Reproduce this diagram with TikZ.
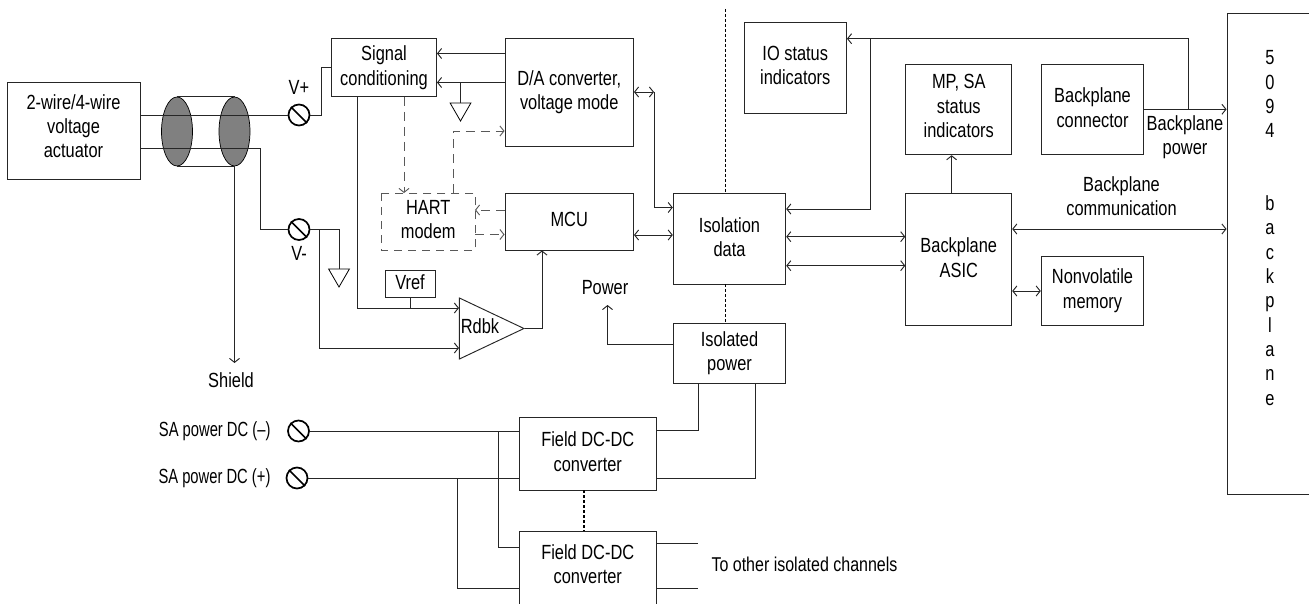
\documentclass[tikz,border=0pt]{standalone}
\usepackage{fontspec}
\setmainfont[FakeStretch=0.8]{Liberation Sans}
\newfontfamily\narrowfont[FakeStretch=0.72]{Liberation Sans}
\usetikzlibrary{shapes.geometric, arrows.meta}
\tikzstyle{wire} = [line width=0.95pt, black!85]
\tikzstyle{arrow} = [wire,->,>={Straight Barb[length=4pt,width=10pt]}]
\tikzstyle{biarrow} = [wire,<->,>={Straight Barb[length=4pt,width=10pt]}]
\tikzstyle{hartline} = [line width=0.95pt, black!65, dash pattern=on 9pt off 6pt]
\tikzstyle{cut} = [line width=1.4pt, dash pattern=on 3pt off 2pt]
\tikzstyle{box} = [draw, black!85, line width=0.95pt, text=black, inner sep=0pt, text depth=4pt]
\tikzstyle{terminal} = [draw, circle, line width=1.7pt, minimum size=21pt, inner sep=0pt]
\tikzstyle{shieldring} = [draw, ellipse, fill=black!50, line width=0.7pt, minimum width=31pt, minimum height=69pt, inner sep=0pt]
\tikzstyle{ground} = [draw, isosceles triangle, isosceles triangle apex angle=60, shape border rotate=-90, line width=0.8pt, inner sep=0pt, minimum height=18pt]

\begin{document}
\begin{tikzpicture}[x=1pt, y=-1pt, font=\fontsize{20.5}{24.3}\selectfont, every node/.style={align=center}]
    \useasboundingbox (0,0) rectangle (1309,604);
    \clip (0,0) rectangle (1309,604);

    % Field side
    \node (actuator) [box, text depth=10pt, minimum width=133pt, minimum height=96.5pt] at (73.5,131) {2-wire/4-wire\\voltage\\actuator};
    \node (ringa) [shieldring] at (177,131.5) {};
    \node (ringb) [shieldring] at (234.5,131.5) {};
    \node (vplus) [terminal] at (299,115) {};
    \node (vminus) [terminal] at (299,229.5) {};
    \node (vplustext) at (299,87) {V+};
    \node (vminustext) at (299,253) {V-};
    \node (shield) at (231,380) {Shield};

    \node (signal) [box, minimum width=105pt, minimum height=58pt] at (384,67.5) {Signal\\conditioning};
    \node (dac) [box, minimum width=128.5pt, minimum height=107.5pt] at (569.25,92.25) {D/A converter,\\voltage mode};
    \node (hart) [box, draw=none, minimum width=92.5pt, minimum height=56.5pt] at (428.25,221.75) {HART\\modem};
    \node (mcu) [box, minimum width=128.5pt, minimum height=56.5pt] at (569.25,221.75) {MCU};
    \node (vref) [box, minimum width=50pt, minimum height=27pt] at (410,284) {Vref};
    \node (rdbk) [draw, isosceles triangle, isosceles triangle apex angle=50.6, line width=0.95pt, black!85, inner sep=0pt, minimum height=64.5pt] at (478.75,328.5) {};
    \node (rdbktext) at (480,326) {Rdbk};
    \node (gnda) [ground] at (339,275) {};
    \node (gndb) [ground] at (460.5,109) {};

    % Isolation
    \node (iso) [box, minimum width=112.5pt, minimum height=90.5pt] at (729.5,238.75) {Isolation\\data};
    \node (isopower) [box, minimum width=112.5pt, minimum height=59.5pt] at (729.5,353.25) {Isolated\\power};
    \node (power) at (605,288) {Power};
    \coordinate (cuttop) at (725.3,9);
    \coordinate (cutmid) at (725.3,323.5);

    % Power inputs
    \node (samin) [terminal] at (298.5,431) {};
    \node (saplus) [terminal] at (297,478) {};
    \node (samintext) [anchor=east, font=\fontsize{20.5}{24.3}\narrowfont] at (274,431) {SA power DC (–)};
    \node (saplustext) [anchor=east, font=\fontsize{20.5}{24.3}\narrowfont] at (274,478) {SA power DC (+)};
    \node (fielda) [box, minimum width=136.5pt, minimum height=73pt] at (587.75,453.5) {Field DC-DC\\converter};
    \node (fieldb) [box, minimum width=136.5pt, minimum height=100pt] at (587.75,581.5) {};
    \node (fieldbtext) at (587.75,564.5) {Field DC-DC\\converter};
    \node (others) [anchor=west, font=\fontsize{20}{24.3}\selectfont] at (708,564.5) {To other isolated channels};

    % Backplane side
    \node (iostatus) [box, text depth=6pt, minimum width=102.5pt, minimum height=90.5pt] at (795.25,68) {IO status\\indicators};
    \node (mpsa) [box, text depth=7pt, minimum width=106pt, minimum height=90.5pt] at (958.75,109.5) {MP, SA\\status\\indicators};
    \node (connector) [box, minimum width=102.5pt, minimum height=90.5pt] at (1092.5,109.5) {Backplane\\connector};
    \node (asic) [box, minimum width=106pt, minimum height=131.5pt] at (958.75,259.5) {Backplane\\ASIC};
    \node (memory) [box, minimum width=102.5pt, minimum height=69pt] at (1092.5,290.5) {Nonvolatile\\memory};
    \node (bppower) at (1185,137) {Backplane\\power};
    \node (bpcomm) at (1121.5,196) {Backplane\\communication};
    \node (backplane) [box, minimum width=100pt, minimum height=481pt] at (1277,253.5) {};
    \node (backplanetext) at (1270,228) {5\\0\\9\\4\\[48.6pt]b\\a\\c\\k\\p\\l\\a\\n\\e};

    % Cable
    \draw[wire] (ringa.north) -- (ringb.north);
    \draw[wire] (ringa.south) -- (ringb.south);
    \draw[wire] (actuator.east |- vplus.west) -- (vplus.west);
    \draw[wire] (actuator.east |- 0,148) -- (260,148) |- (vminus.west);
    \draw[arrow] (ringb.south) -- (234.5,363);

    % Terminals
    \foreach \term in {vplus, vminus, samin, saplus}
        \draw[line width=1.7pt] (\term.north west) -- (\term.south east);

    % Edges
    \draw[wire] (vplus.east) -- (321.5,115) |- (signal.west);
    \draw[wire] (vminus.east) -| (gnda.north);
    \draw[arrow] (319,229.5) |- (rdbk.west |- 0,348);
    \draw[arrow] (357.5,96.5) |- (rdbk.west |- 0,308);
    \draw[wire] (vref.south) -- (410,308);
    \draw[arrow] (rdbk.east) -| (mcu.south -| 542,0);
    \draw[arrow] (dac.west |- 0,53.5) -- (signal.east |- 0,53.5);
    \draw[arrow] (dac.west |- 0,82.5) -- (signal.east |- 0,82.5);
    \draw[wire] (gndb.north) -- (460.5,82.5);

    % HART, dashed
    \draw[hartline, dash pattern=on 8pt off 6pt] (hart.north west) rectangle (hart.south east);
    \draw[hartline, ->, >={Straight Barb[length=4pt,width=10pt]}] (signal.south -| 404,0) -- (hart.north -| 404,0);
    \draw[hartline, ->, >={Straight Barb[length=4pt,width=10pt]}] (hart.north -| 453,0) |- (dac.west |- 0,131);
    \draw[hartline, ->, >={Straight Barb[length=4pt,width=10pt]}] (mcu.west |- 0,210) -- (hart.east |- 0,210);
    \draw[hartline, ->, >={Straight Barb[length=4pt,width=10pt]}] (hart.east |- 0,234.5) -- (mcu.west |- 0,234.5);

    \draw[biarrow] (dac.east |- 0,92) -- (654,92);
    \draw[arrow] (654,92) |- (iso.west |- 0,207.5);
    \draw[biarrow] (mcu.east |- 0,235) -- (iso.west |- 0,235);
    \draw[cut] (cuttop) -- (iso.north -| cuttop);
    \draw[cut] (iso.south -| cuttop) -- (cutmid);
    \draw[arrow] (isopower.west |- 0,344) -| (607.5,305);

    % Power wiring
    \draw[wire] (samin.east) -- (fielda.west |- samin.east);
    \draw[wire] (saplus.east) -- (fielda.west |- saplus.east);
    \draw[wire] (498.7,431) |- (fieldb.west |- 0,547);
    \draw[wire] (457.4,478) |- (fieldb.west |- 0,588.7);
    \draw[wire] (fielda.east |- 0,430.5) -| (isopower.south -| 698,0);
    \draw[wire] (fielda.east |- 0,478) -| (isopower.south -| 755.3,0);
    \draw[cut] (fielda.south -| 584,0) -- (fieldb.north -| 584,0);
    \draw[wire] (fieldb.east |- 0,543.7) -- (698,543.7);
    \draw[wire] (fieldb.east |- 0,588.7) -- (698,588.7);

    % Backplane
    \draw[arrow] (1188,109.3) |- (iostatus.east |- 0,38.7);
    \draw[arrow] (870.7,38.7) |- (iso.east |- 0,209);
    \draw[arrow] (connector.east |- 0,109.3) -- (backplane.west |- 0,109.3);
    \draw[biarrow] (iso.east |- 0,236.7) -- (asic.west |- 0,236.7);
    \draw[biarrow] (iso.east |- 0,265.7) -- (asic.west |- 0,265.7);
    \draw[arrow] (asic.north -| 951.6,0) -- (mpsa.south -| 951.6,0);
    \draw[biarrow] (asic.east |- 0,229) -- (backplane.west |- 0,229);
    \draw[biarrow] (asic.east |- 0,291) -- (memory.west |- 0,291);
\end{tikzpicture}
\end{document}
